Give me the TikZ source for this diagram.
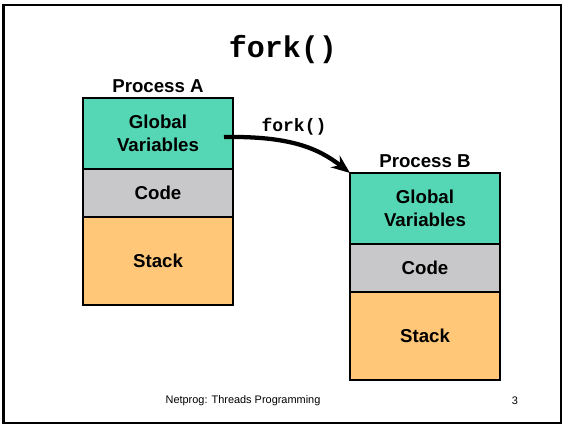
\documentclass[tikz,border=0pt]{standalone}
\usepackage{fontspec}
\setmainfont{Liberation Sans}
\newfontfamily\courierfont{Liberation Mono}
\usepackage{xcolor}
\definecolor{globgreen}{HTML}{55D7B5}
\definecolor{codegray}{HTML}{C8C8CA}
\definecolor{stackorange}{HTML}{FFC777}
\usepackage{tikz}
\usetikzlibrary{arrows.meta,positioning}

\tikzset{
  segbox/.style={draw=black, line width=1.5pt, minimum width=112.5pt, align=center,
    font=\fontsize{14}{16.8}\selectfont\bfseries, inner sep=0pt, outer sep=0pt},
  proclabel/.style={font=\fontsize{14}{16.8}\selectfont\bfseries},
  footer/.style={font=\fontsize{8.2}{10}\selectfont}
}

\begin{document}
\begin{tikzpicture}[x=0.75pt, y=-0.75pt]
    \useasboundingbox (0,0) rectangle (564,424);
    % Slide frame
    \draw[line width=1.6pt] (3.5,5) rectangle (561,423.5);
    \node[font=\courierfont\fontsize{22.5}{26}\selectfont\bfseries] (title) at (283,50) {fork()};
    % Process memory layouts
    \foreach \p/\x/\y/\lab in {a/158/133.5/A, b/425/208.5/B} {
      \node[segbox, fill=globgreen, minimum height=53.25pt] (\p glob) at (\x,\y) {Global\\Variables};
      \node[segbox, fill=codegray, minimum height=36pt, below=0pt of \p glob] (\p code) {Code};
      \node[segbox, fill=stackorange, minimum height=66pt, below=0pt of \p code] (\p stack) {Stack};
      \node[proclabel, above=0.5pt of \p glob] (\p name) {Process \lab};
    }
    % Fork arrow
    \coordinate (forkstart) at (224,137);
    \draw[-{Stealth[length=14pt,width=11pt]}, line width=3.2pt]
      (forkstart) .. controls (290,136) and (318,148) .. (bglob.north west);
    \node[font=\courierfont\fontsize{13.5}{16}\selectfont\bfseries] (forklabel) at (294,127) {fork()};
    % Footer
    \node[footer] (foottext) at (243,401) {Netprog: Threads Programming};
    \node[footer] (pagenum) at (515,401) {3};
  \end{tikzpicture}
\end{document}
